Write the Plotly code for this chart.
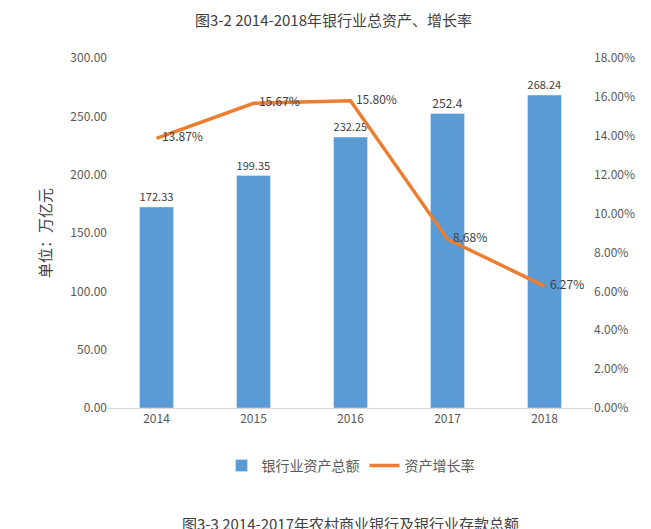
import plotly.graph_objects as go

years = ["2014", "2015", "2016", "2017", "2018"]
assets = [172.33, 199.35, 232.25, 252.4, 268.24]
growth = [13.87, 15.67, 15.80, 8.68, 6.27]
asset_labels = ["172.33", "199.35", "232.25", "252.4", "268.24"]
growth_labels = ["  13.87%", "  15.67%", "  15.80%", "  8.68%", "  6.27%"]

font = "Microsoft YaHei, Noto Sans CJK SC, sans-serif"

fig = go.Figure()
fig.add_trace(go.Bar(x=years, y=assets, name="银行业资产总额", marker_color="#5B9BD5",
                     width=0.35, text=asset_labels, textposition="outside",
                     textfont=dict(size=12, color="#404040"), cliponaxis=False))
fig.add_trace(go.Scatter(x=years, y=growth, name="资产增长率", yaxis="y2", mode="lines+text",
                         line=dict(color="#ED7D31", width=3.5), text=growth_labels,
                         textposition="middle right", textfont=dict(size=12, color="#404040"),
                         cliponaxis=False))

fig.update_layout(
    width=651, height=529, paper_bgcolor="white", plot_bgcolor="white",
    font=dict(family=font, color="#595959", size=12),
    margin=dict(l=100, r=66, t=50, b=129),
    title=dict(text="图3-2 2014-2018年银行业总资产、增长率", x=0.5, y=0.985,
               xanchor="center", font=dict(size=15, color="#404040")),
    xaxis=dict(showline=True, linecolor="#D9D9D9", ticks="", tickfont=dict(size=12)),
    yaxis=dict(range=[0, 300], dtick=50, tickformat=".2f", showgrid=False, zeroline=False,
               title=dict(text="单位：万亿元", font=dict(size=15, color="#404040")),
               tickfont=dict(size=12)),
    yaxis2=dict(range=[0, 18], dtick=2, overlaying="y", side="right", showgrid=False,
                zeroline=False, ticksuffix="%", tickformat=".2f", tickfont=dict(size=12)),
    legend=dict(orientation="h", x=0.5, xanchor="center", y=-0.12, yanchor="top",
                font=dict(size=14, color="#595959")),
    bargap=0.65,
    annotations=[dict(text="图3-3 2014-2017年农村商业银行及银行业存款总额", xref="paper", yref="paper",
                      x=0.5, y=-0.33, xanchor="center", yanchor="middle", showarrow=False,
                      font=dict(size=15, color="#404040"))],
)

fig.write_html("out.html")
